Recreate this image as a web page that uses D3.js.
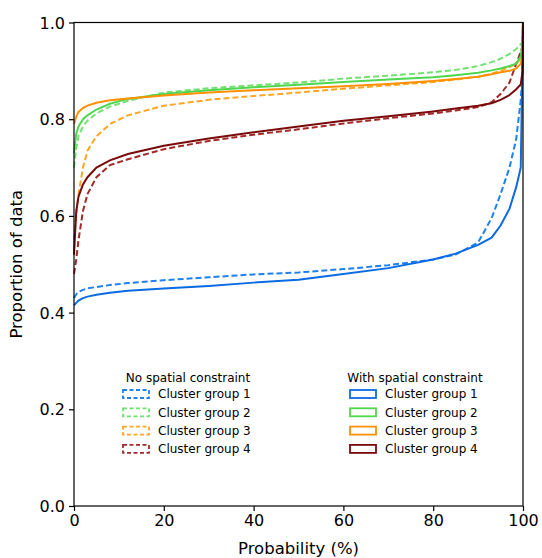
<!DOCTYPE html>
<html>
<head>
<meta charset="utf-8">
<script src="https://cdn.jsdelivr.net/npm/d3@7"></script>
<style>
  html, body { margin: 0; padding: 0; background: #fff; overflow: hidden; }
  svg { display: block; font-family: "DejaVu Sans", sans-serif; }
  .tick text { font-size: 16px; fill: #000; }
  .axis-label { font-size: 16.5px; fill: #000; }
  .legend text { font-size: 12px; fill: #000; }
</style>
</head>
<body>
<svg width="542" height="558"></svg>
<script>
"use strict";

// shared probability grid (%)
const prob = [0, 0.5, 1, 2, 3, 5, 8, 12, 20, 30, 40, 50, 60, 70, 80, 85, 90, 93, 95, 97, 98.5, 99.5, 99.9, 100];

// no spatial constraint (dashed)
const noC1 = [0.43, 0.438, 0.443, 0.447, 0.45, 0.453, 0.457, 0.461, 0.467, 0.473, 0.479, 0.483, 0.49, 0.498, 0.51, 0.52, 0.545, 0.595, 0.645, 0.7, 0.76, 0.84, 0.9, 1.0];
const noC2 = [0.70, 0.74, 0.765, 0.785, 0.797, 0.812, 0.826, 0.838, 0.855, 0.864, 0.87, 0.876, 0.884, 0.89, 0.897, 0.902, 0.91, 0.918, 0.925, 0.935, 0.945, 0.955, 0.96, 1.0];
const noC3 = [0.55, 0.6, 0.645, 0.7, 0.735, 0.765, 0.79, 0.808, 0.828, 0.84, 0.848, 0.855, 0.863, 0.87, 0.877, 0.882, 0.888, 0.894, 0.9, 0.908, 0.915, 0.925, 0.94, 1.0];
const noC4 = [0.48, 0.51, 0.55, 0.61, 0.645, 0.68, 0.705, 0.717, 0.738, 0.755, 0.768, 0.779, 0.791, 0.802, 0.812, 0.818, 0.825, 0.835, 0.852, 0.876, 0.915, 0.94, 0.95, 1.0];

// with spatial constraint (solid)
const withC1 = [0.415, 0.42, 0.425, 0.43, 0.433, 0.437, 0.441, 0.445, 0.45, 0.455, 0.462, 0.468, 0.48, 0.492, 0.51, 0.522, 0.54, 0.555, 0.58, 0.615, 0.66, 0.70, 0.93, 1.0];
const withC2 = [0.73, 0.77, 0.785, 0.8, 0.808, 0.82, 0.832, 0.842, 0.852, 0.86, 0.866, 0.871, 0.877, 0.882, 0.887, 0.891, 0.896, 0.901, 0.905, 0.91, 0.915, 0.93, 0.96, 1.0];
const withC3 = [0.79, 0.805, 0.815, 0.823, 0.828, 0.834, 0.839, 0.843, 0.849, 0.855, 0.86, 0.864, 0.868, 0.873, 0.879, 0.883, 0.888, 0.893, 0.897, 0.9, 0.905, 0.915, 0.93, 1.0];
const withC4 = [0.52, 0.61, 0.64, 0.665, 0.68, 0.70, 0.715, 0.728, 0.745, 0.76, 0.773, 0.785, 0.797, 0.806, 0.816, 0.822, 0.828, 0.833, 0.84, 0.85, 0.862, 0.872, 0.9, 1.0];

const groups = ["Cluster group 1", "Cluster group 2", "Cluster group 3", "Cluster group 4"];
const dashedColors = ["#1f80f0", "#72e072", "#ffa626", "#a32828"];
const solidColors = ["#0a6be3", "#4fd64f", "#ff9000", "#7a0a0a"];
const xTicks = [0, 20, 40, 60, 80, 100];
const yTicks = [0.0, 0.2, 0.4, 0.6, 0.8, 1.0];

const svg = d3.select("svg");
const margin = { top: 22.5, right: 19, bottom: 52, left: 74 };
const width = +svg.attr("width");
const height = +svg.attr("height");
const innerWidth = width - margin.left - margin.right;
const innerHeight = height - margin.top - margin.bottom;

const x = d3.scaleLinear().domain([0, 100]).range([0, innerWidth]);
const y = d3.scaleLinear().domain([0, 1]).range([innerHeight, 0]);

const g = svg.append("g").attr("transform", `translate(${margin.left},${margin.top})`);

const line = d3.line()
  .x((d, i) => x(prob[i]))
  .y(d => y(d));

g.append("defs").append("clipPath").attr("id", "clip")
  .append("rect").attr("x", -1).attr("y", -1).attr("width", innerWidth + 2).attr("height", innerHeight + 2);

const plot = g.append("g").attr("clip-path", "url(#clip)");

[noC1, noC2, noC3, noC4].forEach((s, i) => {
  plot.append("path")
    .attr("d", line(s))
    .attr("fill", "none")
    .attr("stroke", dashedColors[i])
    .attr("stroke-width", 2)
    .attr("stroke-dasharray", "6,3");
});

[withC1, withC2, withC3, withC4].forEach((s, i) => {
  plot.append("path")
    .attr("d", line(s))
    .attr("fill", "none")
    .attr("stroke", solidColors[i])
    .attr("stroke-width", 2);
});

// frame
g.append("rect")
  .attr("width", innerWidth).attr("height", innerHeight)
  .attr("fill", "none").attr("stroke", "#000").attr("stroke-width", 1.2);

const xAxis = d3.axisBottom(x).tickValues(xTicks).tickSize(5).tickPadding(3).tickFormat(d3.format("d"));
const yAxis = d3.axisLeft(y).tickValues(yTicks).tickSize(5).tickPadding(4).tickFormat(d3.format(".1f"));

const xAxisG = g.append("g").attr("transform", `translate(0,${innerHeight})`).call(xAxis);
const yAxisG = g.append("g").call(yAxis);
[xAxisG, yAxisG].forEach(a => {
  a.select(".domain").remove();
  a.selectAll(".tick line").attr("stroke", "#000").attr("stroke-width", 1.2);
  a.attr("font-family", null).attr("font-size", null);
});
// explicit baselines instead of em offsets
xAxisG.selectAll(".tick text").attr("dy", null).attr("y", 20);
yAxisG.selectAll(".tick text").attr("dy", null).attr("y", 5.5);

g.append("text")
  .attr("class", "axis-label")
  .attr("x", innerWidth / 2)
  .attr("y", innerHeight + 48)
  .attr("text-anchor", "middle")
  .text("Probability (%)");

g.append("text")
  .attr("class", "axis-label")
  .attr("transform", "rotate(-90)")
  .attr("x", -innerHeight / 2)
  .attr("y", -52)
  .attr("text-anchor", "middle")
  .text("Proportion of data");

// legend
const legend = svg.append("g").attr("class", "legend");
const cols = [
  { title: "No spatial constraint", x: 123, colors: dashedColors, dash: "4,2.5" },
  { title: "With spatial constraint", x: 350, colors: solidColors, dash: null }
];
const rowY = d => 394 + d * 18.3;

cols.forEach(c => {
  legend.append("text")
    .attr("x", c.x + 65)
    .attr("y", 382)
    .attr("text-anchor", "middle")
    .text(c.title);
  groups.forEach((name, i) => {
    legend.append("rect")
      .attr("x", c.x)
      .attr("y", rowY(i) - 4)
      .attr("width", 26)
      .attr("height", 8)
      .attr("fill", "#fff")
      .attr("stroke", c.colors[i])
      .attr("stroke-width", 1.8)
      .attr("stroke-dasharray", c.dash);
    legend.append("text")
      .attr("x", c.x + 35)
      .attr("y", rowY(i) + 4.3)
      .text(name);
  });
});
</script>
</body>
</html>
